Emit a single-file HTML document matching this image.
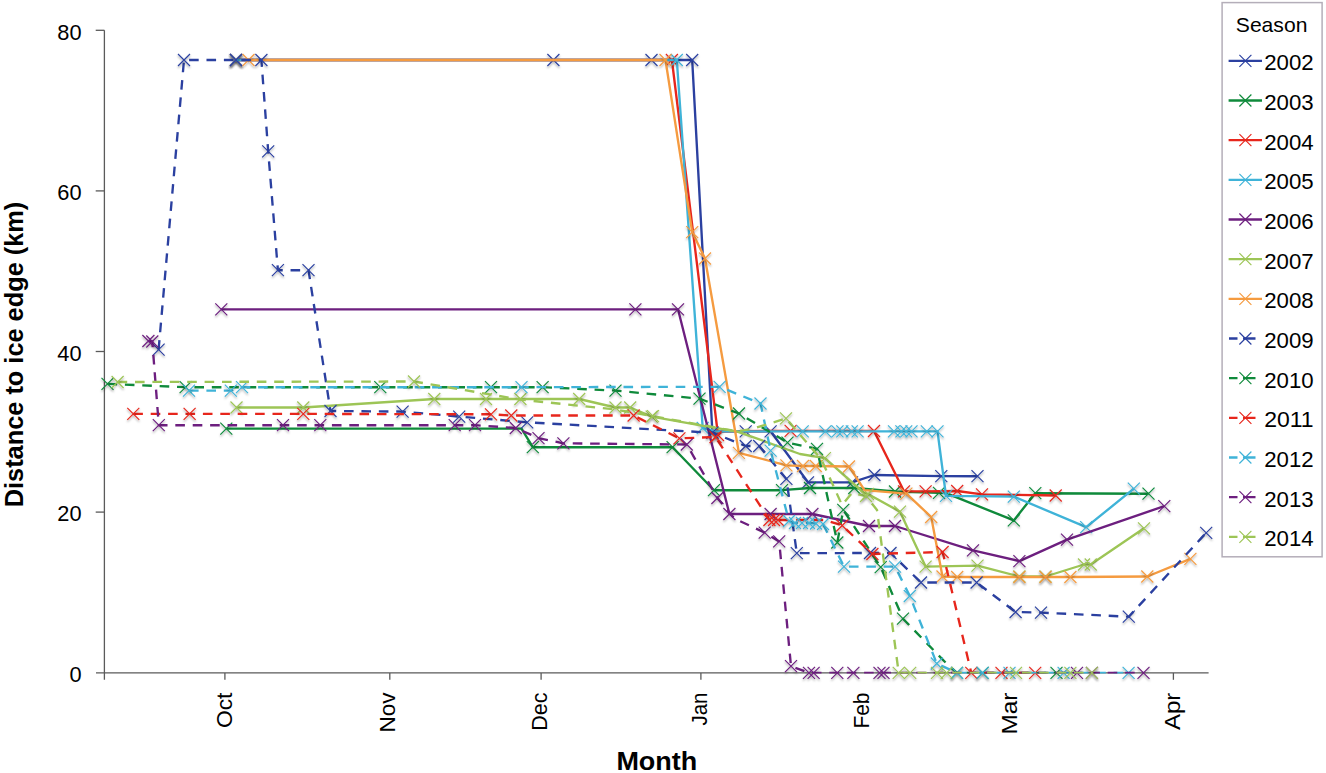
<!DOCTYPE html>
<html lang="en"><head><meta charset="utf-8"><title>Distance to ice edge by month</title>
<style>html,body{margin:0;padding:0;background:#fff}body{width:1326px;height:773px;overflow:hidden}svg{display:block}text{font-family:"Liberation Sans",Arial,sans-serif;fill:#000}</style>
</head><body>
<svg width="1326" height="773" viewBox="0 0 1326 773">
<defs><clipPath id="pc"><rect x="0" y="0" width="1326" height="673.6"/></clipPath><filter id="sh" x="-20%" y="-20%" width="140%" height="160%"><feDropShadow dx="0" dy="1.6" stdDeviation="0.9" flood-color="#000" flood-opacity="0.38"/></filter></defs>
<rect width="1326" height="773" fill="#fff"/>
<g stroke="#5a5a5a" stroke-width="1.3" fill="none">
<path d="M104.4 30.3V679.8"/>
<path d="M96 672.9H1208.6"/>
<path d="M95.7 30.3H104.4"/>
<path d="M95.7 190.9H104.4"/>
<path d="M95.7 351.5H104.4"/>
<path d="M95.7 512.1H104.4"/>
<path d="M224.9 672.9V679.8"/>
<path d="M389.8 672.9V679.8"/>
<path d="M541.1 672.9V679.8"/>
<path d="M700.9 672.9V679.8"/>
<path d="M1173.4 672.9V679.8"/>
</g>
<text x="81.6" y="39.6" font-size="21.8" text-anchor="end">80</text>
<text x="81.6" y="200.2" font-size="21.8" text-anchor="end">60</text>
<text x="81.6" y="360.8" font-size="21.8" text-anchor="end">40</text>
<text x="81.6" y="521.4" font-size="21.8" text-anchor="end">20</text>
<text x="81.6" y="682.0" font-size="21.8" text-anchor="end">0</text>
<text transform="translate(232.2 692.6) rotate(-90)" font-size="21.8" text-anchor="end" textLength="35.5" lengthAdjust="spacingAndGlyphs">Oct</text>
<text transform="translate(395.4 692.6) rotate(-90)" font-size="21.8" text-anchor="end" textLength="40" lengthAdjust="spacingAndGlyphs">Nov</text>
<text transform="translate(547.2 692.6) rotate(-90)" font-size="21.8" text-anchor="end" textLength="38.2" lengthAdjust="spacingAndGlyphs">Dec</text>
<text transform="translate(706.6 692.6) rotate(-90)" font-size="21.8" text-anchor="end" textLength="33" lengthAdjust="spacingAndGlyphs">Jan</text>
<text transform="translate(869.2 692.6) rotate(-90)" font-size="21.8" text-anchor="end" textLength="36" lengthAdjust="spacingAndGlyphs">Feb</text>
<text transform="translate(1016.7 692.6) rotate(-90)" font-size="21.8" text-anchor="end" textLength="42" lengthAdjust="spacingAndGlyphs">Mar</text>
<text transform="translate(1179.5 692.6) rotate(-90)" font-size="21.8" text-anchor="end" textLength="37.5" lengthAdjust="spacingAndGlyphs">Apr</text>
<text transform="translate(23 354.5) rotate(-90)" font-size="26" font-weight="bold" text-anchor="middle" textLength="305.6" lengthAdjust="spacingAndGlyphs">Distance to ice edge (km)</text>
<text x="616.4" y="770.1" font-size="25.6" font-weight="bold" textLength="80.9" lengthAdjust="spacingAndGlyphs">Month</text>
<g stroke="#2b40a0" fill="none">
<path d="M236.0 60.0 L553.4 60.0 L651.5 60.0 L692.2 60.0 L712.4 432.7 L716.0 431.3 L745.7 431.3 L770.6 431.3 L808.0 482.3 L852.0 482.3 L874.4 475.0 L941.3 476.2 L977.5 476.2" stroke-width="2.35" stroke-linejoin="round" clip-path="url(#pc)"/>
<path d="M230.0 54.0l12.0 12.0M230.0 66.0l12.0 -12.0M547.4 54.0l12.0 12.0M547.4 66.0l12.0 -12.0M645.5 54.0l12.0 12.0M645.5 66.0l12.0 -12.0M686.2 54.0l12.0 12.0M686.2 66.0l12.0 -12.0M706.4 426.7l12.0 12.0M706.4 438.7l12.0 -12.0M739.7 425.3l12.0 12.0M739.7 437.3l12.0 -12.0M764.6 425.3l12.0 12.0M764.6 437.3l12.0 -12.0M802.0 476.3l12.0 12.0M802.0 488.3l12.0 -12.0M846.0 476.3l12.0 12.0M846.0 488.3l12.0 -12.0M868.4 469.0l12.0 12.0M868.4 481.0l12.0 -12.0M935.3 470.2l12.0 12.0M935.3 482.2l12.0 -12.0M971.5 470.2l12.0 12.0M971.5 482.2l12.0 -12.0" stroke-width="1.15" filter="url(#sh)"/>
</g>
<g stroke="#0f8a3b" fill="none">
<path d="M226.3 428.6 L521.5 428.6 L532.8 447.2 L672.6 447.2 L714.0 490.2 L782.0 490.2 L810.0 488.0 L854.3 488.0 L895.0 491.5 L939.0 492.8 L946.0 493.2 L1013.8 520.4 L1035.3 493.2 L1148.5 493.7" stroke-width="2.35" stroke-linejoin="round" clip-path="url(#pc)"/>
<path d="M220.3 422.6l12.0 12.0M220.3 434.6l12.0 -12.0M526.8 441.2l12.0 12.0M526.8 453.2l12.0 -12.0M666.6 441.2l12.0 12.0M666.6 453.2l12.0 -12.0M708.0 484.2l12.0 12.0M708.0 496.2l12.0 -12.0M776.0 484.2l12.0 12.0M776.0 496.2l12.0 -12.0M804.0 482.0l12.0 12.0M804.0 494.0l12.0 -12.0M848.3 482.0l12.0 12.0M848.3 494.0l12.0 -12.0M889.0 485.5l12.0 12.0M889.0 497.5l12.0 -12.0M933.0 486.8l12.0 12.0M933.0 498.8l12.0 -12.0M1007.8 514.4l12.0 12.0M1007.8 526.4l12.0 -12.0M1029.3 487.2l12.0 12.0M1029.3 499.2l12.0 -12.0M1142.5 487.7l12.0 12.0M1142.5 499.7l12.0 -12.0" stroke-width="1.15" filter="url(#sh)"/>
</g>
<g stroke="#e7261c" fill="none">
<path d="M236.0 60.0 L671.9 60.0 L718.0 435.0 L722.0 431.3 L790.6 430.8 L874.0 431.0 L904.0 491.3 L925.6 491.3 L957.2 491.0 L982.0 494.3 L1055.7 495.5" stroke-width="2.35" stroke-linejoin="round" clip-path="url(#pc)"/>
<path d="M230.0 54.0l12.0 12.0M230.0 66.0l12.0 -12.0M665.9 54.0l12.0 12.0M665.9 66.0l12.0 -12.0M712.0 429.0l12.0 12.0M712.0 441.0l12.0 -12.0M784.6 424.8l12.0 12.0M784.6 436.8l12.0 -12.0M868.0 425.0l12.0 12.0M868.0 437.0l12.0 -12.0M898.0 485.3l12.0 12.0M898.0 497.3l12.0 -12.0M919.6 485.3l12.0 12.0M919.6 497.3l12.0 -12.0M951.2 485.0l12.0 12.0M951.2 497.0l12.0 -12.0M976.0 488.3l12.0 12.0M976.0 500.3l12.0 -12.0M1049.7 489.5l12.0 12.0M1049.7 501.5l12.0 -12.0" stroke-width="1.15" filter="url(#sh)"/>
</g>
<g stroke="#3fb3d8" fill="none">
<path d="M236.0 60.0 L676.8 60.0 L702.7 428.0 L716.0 431.3 L802.7 431.3 L825.4 431.3 L837.5 431.3 L842.3 431.3 L851.8 431.3 L857.6 431.3 L894.0 431.3 L901.4 431.3 L906.2 431.3 L911.5 431.3 L926.8 431.3 L937.5 431.3 L946.0 495.8 L1013.8 496.6 L1086.2 527.2 L1133.8 488.7" stroke-width="2.35" stroke-linejoin="round" clip-path="url(#pc)"/>
<path d="M230.0 54.0l12.0 12.0M230.0 66.0l12.0 -12.0M670.8 54.0l12.0 12.0M670.8 66.0l12.0 -12.0M696.7 422.0l12.0 12.0M696.7 434.0l12.0 -12.0M796.7 425.3l12.0 12.0M796.7 437.3l12.0 -12.0M819.4 425.3l12.0 12.0M819.4 437.3l12.0 -12.0M831.5 425.3l12.0 12.0M831.5 437.3l12.0 -12.0M836.3 425.3l12.0 12.0M836.3 437.3l12.0 -12.0M845.8 425.3l12.0 12.0M845.8 437.3l12.0 -12.0M851.6 425.3l12.0 12.0M851.6 437.3l12.0 -12.0M888.0 425.3l12.0 12.0M888.0 437.3l12.0 -12.0M895.4 425.3l12.0 12.0M895.4 437.3l12.0 -12.0M900.2 425.3l12.0 12.0M900.2 437.3l12.0 -12.0M905.5 425.3l12.0 12.0M905.5 437.3l12.0 -12.0M920.8 425.3l12.0 12.0M920.8 437.3l12.0 -12.0M931.5 425.3l12.0 12.0M931.5 437.3l12.0 -12.0M940.0 489.8l12.0 12.0M940.0 501.8l12.0 -12.0M1007.8 490.6l12.0 12.0M1007.8 502.6l12.0 -12.0M1080.2 521.2l12.0 12.0M1080.2 533.2l12.0 -12.0M1127.8 482.7l12.0 12.0M1127.8 494.7l12.0 -12.0" stroke-width="1.15" filter="url(#sh)"/>
</g>
<g stroke="#6d1f7f" fill="none">
<path d="M221.3 309.3 L635.4 309.3 L678.0 309.3 L729.4 514.0 L770.6 514.0 L812.4 514.0 L869.0 526.0 L895.0 526.0 L973.0 550.3 L1019.4 561.1 L1067.0 539.6 L1164.3 506.1" stroke-width="2.35" stroke-linejoin="round" clip-path="url(#pc)"/>
<path d="M215.3 303.3l12.0 12.0M215.3 315.3l12.0 -12.0M629.4 303.3l12.0 12.0M629.4 315.3l12.0 -12.0M672.0 303.3l12.0 12.0M672.0 315.3l12.0 -12.0M723.4 508.0l12.0 12.0M723.4 520.0l12.0 -12.0M764.6 508.0l12.0 12.0M764.6 520.0l12.0 -12.0M806.4 508.0l12.0 12.0M806.4 520.0l12.0 -12.0M863.0 520.0l12.0 12.0M863.0 532.0l12.0 -12.0M889.0 520.0l12.0 12.0M889.0 532.0l12.0 -12.0M967.0 544.3l12.0 12.0M967.0 556.3l12.0 -12.0M1013.4 555.1l12.0 12.0M1013.4 567.1l12.0 -12.0M1061.0 533.6l12.0 12.0M1061.0 545.6l12.0 -12.0M1158.3 500.1l12.0 12.0M1158.3 512.1l12.0 -12.0" stroke-width="1.15" filter="url(#sh)"/>
</g>
<g stroke="#9dc556" fill="none">
<path d="M236.5 407.5 L303.3 407.5 L434.3 399.0 L486.0 399.0 L520.4 399.0 L579.2 399.0 L615.5 407.5 L630.2 407.5 L651.7 416.6 L707.6 426.7 L736.6 431.3 L800.0 454.0 L824.9 458.1 L863.4 492.5 L868.0 494.0 L900.0 511.7 L925.6 566.6 L977.5 565.7 L1019.4 576.5 L1045.5 576.5 L1084.0 564.5 L1090.7 564.5 L1144.0 528.3" stroke-width="2.35" stroke-linejoin="round" clip-path="url(#pc)"/>
<path d="M230.5 401.5l12.0 12.0M230.5 413.5l12.0 -12.0M297.3 401.5l12.0 12.0M297.3 413.5l12.0 -12.0M428.3 393.0l12.0 12.0M428.3 405.0l12.0 -12.0M480.0 393.0l12.0 12.0M480.0 405.0l12.0 -12.0M514.4 393.0l12.0 12.0M514.4 405.0l12.0 -12.0M573.2 393.0l12.0 12.0M573.2 405.0l12.0 -12.0M609.5 401.5l12.0 12.0M609.5 413.5l12.0 -12.0M624.2 401.5l12.0 12.0M624.2 413.5l12.0 -12.0M645.7 410.6l12.0 12.0M645.7 422.6l12.0 -12.0M818.9 452.1l12.0 12.0M818.9 464.1l12.0 -12.0M862.0 488.0l12.0 12.0M862.0 500.0l12.0 -12.0M894.0 505.7l12.0 12.0M894.0 517.7l12.0 -12.0M919.6 560.6l12.0 12.0M919.6 572.6l12.0 -12.0M971.5 559.7l12.0 12.0M971.5 571.7l12.0 -12.0M1013.4 570.5l12.0 12.0M1013.4 582.5l12.0 -12.0M1039.5 570.5l12.0 12.0M1039.5 582.5l12.0 -12.0M1078.0 558.5l12.0 12.0M1078.0 570.5l12.0 -12.0M1084.7 558.5l12.0 12.0M1084.7 570.5l12.0 -12.0M1138.0 522.3l12.0 12.0M1138.0 534.3l12.0 -12.0" stroke-width="1.15" filter="url(#sh)"/>
</g>
<g stroke="#f59b40" fill="none">
<path d="M248.5 60.0 L665.5 60.0 L692.2 232.1 L705.0 258.5 L738.9 452.8 L786.4 465.3 L803.0 466.0 L815.8 466.0 L849.0 466.5 L864.5 490.2 L906.4 493.6 L931.2 517.0 L942.5 576.5 L957.2 577.0 L1019.4 577.0 L1045.5 577.0 L1070.4 577.0 L1147.3 576.5 L1190.4 558.9" stroke-width="2.35" stroke-linejoin="round" clip-path="url(#pc)"/>
<path d="M242.5 54.0l12.0 12.0M242.5 66.0l12.0 -12.0M659.5 54.0l12.0 12.0M659.5 66.0l12.0 -12.0M686.2 226.1l12.0 12.0M686.2 238.1l12.0 -12.0M699.0 252.5l12.0 12.0M699.0 264.5l12.0 -12.0M732.9 446.8l12.0 12.0M732.9 458.8l12.0 -12.0M780.4 459.3l12.0 12.0M780.4 471.3l12.0 -12.0M797.0 460.0l12.0 12.0M797.0 472.0l12.0 -12.0M809.8 460.0l12.0 12.0M809.8 472.0l12.0 -12.0M843.0 460.5l12.0 12.0M843.0 472.5l12.0 -12.0M900.4 487.6l12.0 12.0M900.4 499.6l12.0 -12.0M925.2 511.0l12.0 12.0M925.2 523.0l12.0 -12.0M936.5 570.5l12.0 12.0M936.5 582.5l12.0 -12.0M951.2 571.0l12.0 12.0M951.2 583.0l12.0 -12.0M1013.4 571.0l12.0 12.0M1013.4 583.0l12.0 -12.0M1039.5 571.0l12.0 12.0M1039.5 583.0l12.0 -12.0M1064.4 571.0l12.0 12.0M1064.4 583.0l12.0 -12.0M1141.3 570.5l12.0 12.0M1141.3 582.5l12.0 -12.0M1184.4 552.9l12.0 12.0M1184.4 564.9l12.0 -12.0" stroke-width="1.15" filter="url(#sh)"/>
</g>
<g stroke="#2b40a0" fill="none">
<path d="M158.6 349.6 L184.0 60.0 L236.0 60.0 L261.4 60.0 L268.2 151.3 L277.9 270.2 L308.5 270.2 L330.5 411.0 L402.6 411.6 L459.2 416.6 L527.2 422.3 L712.4 432.7 L745.7 446.0 L759.2 446.0 L786.4 478.9 L796.8 553.2 L870.0 553.0 L890.5 553.0 L921.0 582.5 L976.6 582.5 L1015.6 612.0 L1041.0 612.6 L1128.8 616.7 L1206.2 532.8" stroke-width="2.35" stroke-linejoin="round" stroke-dasharray="9.6 7.8" clip-path="url(#pc)"/>
<path d="M152.6 343.6l12.0 12.0M152.6 355.6l12.0 -12.0M178.0 54.0l12.0 12.0M178.0 66.0l12.0 -12.0M230.0 54.0l12.0 12.0M230.0 66.0l12.0 -12.0M255.4 54.0l12.0 12.0M255.4 66.0l12.0 -12.0M262.2 145.3l12.0 12.0M262.2 157.3l12.0 -12.0M271.9 264.2l12.0 12.0M271.9 276.2l12.0 -12.0M302.5 264.2l12.0 12.0M302.5 276.2l12.0 -12.0M324.5 405.0l12.0 12.0M324.5 417.0l12.0 -12.0M396.6 405.6l12.0 12.0M396.6 417.6l12.0 -12.0M453.2 410.6l12.0 12.0M453.2 422.6l12.0 -12.0M521.2 416.3l12.0 12.0M521.2 428.3l12.0 -12.0M706.4 426.7l12.0 12.0M706.4 438.7l12.0 -12.0M739.7 440.0l12.0 12.0M739.7 452.0l12.0 -12.0M753.2 440.0l12.0 12.0M753.2 452.0l12.0 -12.0M780.4 472.9l12.0 12.0M780.4 484.9l12.0 -12.0M790.8 547.2l12.0 12.0M790.8 559.2l12.0 -12.0M864.0 547.0l12.0 12.0M864.0 559.0l12.0 -12.0M884.5 547.0l12.0 12.0M884.5 559.0l12.0 -12.0M915.0 576.5l12.0 12.0M915.0 588.5l12.0 -12.0M970.6 576.5l12.0 12.0M970.6 588.5l12.0 -12.0M1009.6 606.0l12.0 12.0M1009.6 618.0l12.0 -12.0M1035.0 606.6l12.0 12.0M1035.0 618.6l12.0 -12.0M1122.8 610.7l12.0 12.0M1122.8 622.7l12.0 -12.0M1200.2 526.8l12.0 12.0M1200.2 538.8l12.0 -12.0" stroke-width="1.15" filter="url(#sh)"/>
</g>
<g stroke="#0f8a3b" fill="none">
<path d="M107.5 383.8 L185.6 387.2 L380.3 387.2 L491.0 387.2 L542.6 387.2 L615.5 390.6 L699.5 398.7 L739.0 413.5 L787.5 442.6 L817.0 448.8 L837.3 542.5 L843.3 509.8 L880.7 567.2 L903.0 618.7 L947.0 664.0 L957.0 672.9 L982.6 672.9 L1056.5 672.9" stroke-width="2.35" stroke-linejoin="round" stroke-dasharray="9.6 7.8" clip-path="url(#pc)"/>
<path d="M101.5 377.8l12.0 12.0M101.5 389.8l12.0 -12.0M179.6 381.2l12.0 12.0M179.6 393.2l12.0 -12.0M374.3 381.2l12.0 12.0M374.3 393.2l12.0 -12.0M485.0 381.2l12.0 12.0M485.0 393.2l12.0 -12.0M536.6 381.2l12.0 12.0M536.6 393.2l12.0 -12.0M609.5 384.6l12.0 12.0M609.5 396.6l12.0 -12.0M693.5 392.7l12.0 12.0M693.5 404.7l12.0 -12.0M733.0 407.5l12.0 12.0M733.0 419.5l12.0 -12.0M781.5 436.6l12.0 12.0M781.5 448.6l12.0 -12.0M811.0 442.8l12.0 12.0M811.0 454.8l12.0 -12.0M831.3 536.5l12.0 12.0M831.3 548.5l12.0 -12.0M837.3 503.8l12.0 12.0M837.3 515.8l12.0 -12.0M874.7 561.2l12.0 12.0M874.7 573.2l12.0 -12.0M897.0 612.7l12.0 12.0M897.0 624.7l12.0 -12.0M951.0 666.9l12.0 12.0M951.0 678.9l12.0 -12.0M976.6 666.9l12.0 12.0M976.6 678.9l12.0 -12.0M1050.5 666.9l12.0 12.0M1050.5 678.9l12.0 -12.0" stroke-width="1.15" filter="url(#sh)"/>
</g>
<g stroke="#e7261c" fill="none">
<path d="M133.3 413.9 L189.6 413.9 L303.3 413.9 L491.0 414.3 L511.3 415.5 L633.6 415.5 L679.4 438.4 L715.5 437.0 L769.4 520.0 L774.0 520.0 L778.0 520.0 L825.0 520.0 L842.2 525.5 L872.4 554.0 L942.6 552.0 L971.3 672.9 L1001.5 672.9 L1035.2 672.9" stroke-width="2.35" stroke-linejoin="round" stroke-dasharray="9.6 7.8" clip-path="url(#pc)"/>
<path d="M127.3 407.9l12.0 12.0M127.3 419.9l12.0 -12.0M183.6 407.9l12.0 12.0M183.6 419.9l12.0 -12.0M297.3 407.9l12.0 12.0M297.3 419.9l12.0 -12.0M485.0 408.3l12.0 12.0M485.0 420.3l12.0 -12.0M505.3 409.5l12.0 12.0M505.3 421.5l12.0 -12.0M627.6 409.5l12.0 12.0M627.6 421.5l12.0 -12.0M673.4 432.4l12.0 12.0M673.4 444.4l12.0 -12.0M709.5 431.0l12.0 12.0M709.5 443.0l12.0 -12.0M763.4 514.0l12.0 12.0M763.4 526.0l12.0 -12.0M768.0 514.0l12.0 12.0M768.0 526.0l12.0 -12.0M772.0 514.0l12.0 12.0M772.0 526.0l12.0 -12.0M836.2 519.5l12.0 12.0M836.2 531.5l12.0 -12.0M866.4 548.0l12.0 12.0M866.4 560.0l12.0 -12.0M936.6 546.0l12.0 12.0M936.6 558.0l12.0 -12.0M965.3 666.9l12.0 12.0M965.3 678.9l12.0 -12.0M995.5 666.9l12.0 12.0M995.5 678.9l12.0 -12.0M1029.2 666.9l12.0 12.0M1029.2 678.9l12.0 -12.0" stroke-width="1.15" filter="url(#sh)"/>
</g>
<g stroke="#3fb3d8" fill="none">
<path d="M189.0 390.6 L230.8 390.6 L242.0 387.2 L521.5 387.2 L719.6 386.8 L760.5 403.5 L770.6 450.6 L789.0 521.0 L795.0 523.0 L802.0 523.0 L809.0 523.0 L816.0 523.5 L823.0 524.0 L844.0 566.6 L895.0 566.6 L909.8 596.0 L936.8 663.5 L957.0 672.9 L982.6 672.9 L1009.5 672.9 L1063.6 672.9 L1128.6 672.9" stroke-width="2.35" stroke-linejoin="round" stroke-dasharray="9.6 7.8" clip-path="url(#pc)"/>
<path d="M183.0 384.6l12.0 12.0M183.0 396.6l12.0 -12.0M224.8 384.6l12.0 12.0M224.8 396.6l12.0 -12.0M236.0 381.2l12.0 12.0M236.0 393.2l12.0 -12.0M515.5 381.2l12.0 12.0M515.5 393.2l12.0 -12.0M713.6 380.8l12.0 12.0M713.6 392.8l12.0 -12.0M754.5 397.5l12.0 12.0M754.5 409.5l12.0 -12.0M764.6 444.6l12.0 12.0M764.6 456.6l12.0 -12.0M783.0 515.0l12.0 12.0M783.0 527.0l12.0 -12.0M789.0 517.0l12.0 12.0M789.0 529.0l12.0 -12.0M796.0 517.0l12.0 12.0M796.0 529.0l12.0 -12.0M803.0 517.0l12.0 12.0M803.0 529.0l12.0 -12.0M810.0 517.5l12.0 12.0M810.0 529.5l12.0 -12.0M817.0 518.0l12.0 12.0M817.0 530.0l12.0 -12.0M838.0 560.6l12.0 12.0M838.0 572.6l12.0 -12.0M889.0 560.6l12.0 12.0M889.0 572.6l12.0 -12.0M903.8 590.0l12.0 12.0M903.8 602.0l12.0 -12.0M930.8 657.5l12.0 12.0M930.8 669.5l12.0 -12.0M951.0 666.9l12.0 12.0M951.0 678.9l12.0 -12.0M976.6 666.9l12.0 12.0M976.6 678.9l12.0 -12.0M1003.5 666.9l12.0 12.0M1003.5 678.9l12.0 -12.0M1057.6 666.9l12.0 12.0M1057.6 678.9l12.0 -12.0M1122.6 666.9l12.0 12.0M1122.6 678.9l12.0 -12.0" stroke-width="1.15" filter="url(#sh)"/>
</g>
<g stroke="#6d1f7f" fill="none">
<path d="M148.4 341.0 L152.3 341.5 L158.8 425.2 L283.0 425.2 L320.3 425.2 L454.7 425.2 L475.0 425.2 L515.8 428.0 L538.5 438.1 L563.4 443.3 L686.8 444.5 L717.4 498.0 L734.3 518.5 L764.7 532.6 L779.2 541.4 L791.0 666.2 L809.0 672.9 L813.6 672.9 L837.3 672.9 L853.4 672.9 L879.5 672.9 L883.5 672.9 L1077.0 672.9 L1091.9 672.9 L1143.5 672.9" stroke-width="2.35" stroke-linejoin="round" stroke-dasharray="9.6 7.8" clip-path="url(#pc)"/>
<path d="M142.4 335.0l12.0 12.0M142.4 347.0l12.0 -12.0M146.3 335.5l12.0 12.0M146.3 347.5l12.0 -12.0M152.8 419.2l12.0 12.0M152.8 431.2l12.0 -12.0M277.0 419.2l12.0 12.0M277.0 431.2l12.0 -12.0M314.3 419.2l12.0 12.0M314.3 431.2l12.0 -12.0M448.7 419.2l12.0 12.0M448.7 431.2l12.0 -12.0M469.0 419.2l12.0 12.0M469.0 431.2l12.0 -12.0M509.8 422.0l12.0 12.0M509.8 434.0l12.0 -12.0M532.5 432.1l12.0 12.0M532.5 444.1l12.0 -12.0M557.4 437.3l12.0 12.0M557.4 449.3l12.0 -12.0M680.8 438.5l12.0 12.0M680.8 450.5l12.0 -12.0M711.4 492.0l12.0 12.0M711.4 504.0l12.0 -12.0M758.7 526.6l12.0 12.0M758.7 538.6l12.0 -12.0M773.2 535.4l12.0 12.0M773.2 547.4l12.0 -12.0M785.0 660.2l12.0 12.0M785.0 672.2l12.0 -12.0M803.0 666.9l12.0 12.0M803.0 678.9l12.0 -12.0M807.6 666.9l12.0 12.0M807.6 678.9l12.0 -12.0M831.3 666.9l12.0 12.0M831.3 678.9l12.0 -12.0M847.4 666.9l12.0 12.0M847.4 678.9l12.0 -12.0M873.5 666.9l12.0 12.0M873.5 678.9l12.0 -12.0M877.5 666.9l12.0 12.0M877.5 678.9l12.0 -12.0M1071.0 666.9l12.0 12.0M1071.0 678.9l12.0 -12.0M1085.9 666.9l12.0 12.0M1085.9 678.9l12.0 -12.0M1137.5 666.9l12.0 12.0M1137.5 678.9l12.0 -12.0" stroke-width="1.15" filter="url(#sh)"/>
</g>
<g stroke="#9dc556" fill="none">
<path d="M117.6 382.0 L414.0 381.5 L520.4 399.6 L615.5 409.5 L653.0 416.2 L736.6 431.3 L752.0 429.0 L786.0 418.4 L821.5 459.6 L842.0 505.0 L852.0 493.0 L866.0 496.0 L877.0 510.0 L898.7 672.9 L910.2 672.9 L937.0 672.9 L946.7 672.9 L1016.0 672.9 L1070.4 672.9 L1091.9 672.9" stroke-width="2.35" stroke-linejoin="round" stroke-dasharray="9.6 7.8" clip-path="url(#pc)"/>
<path d="M111.6 376.0l12.0 12.0M111.6 388.0l12.0 -12.0M408.0 375.5l12.0 12.0M408.0 387.5l12.0 -12.0M647.0 410.2l12.0 12.0M647.0 422.2l12.0 -12.0M780.0 412.4l12.0 12.0M780.0 424.4l12.0 -12.0M860.0 490.0l12.0 12.0M860.0 502.0l12.0 -12.0M892.7 666.9l12.0 12.0M892.7 678.9l12.0 -12.0M904.2 666.9l12.0 12.0M904.2 678.9l12.0 -12.0M931.0 666.9l12.0 12.0M931.0 678.9l12.0 -12.0M940.7 666.9l12.0 12.0M940.7 678.9l12.0 -12.0M1010.0 666.9l12.0 12.0M1010.0 678.9l12.0 -12.0M1064.4 666.9l12.0 12.0M1064.4 678.9l12.0 -12.0M1085.9 666.9l12.0 12.0M1085.9 678.9l12.0 -12.0" stroke-width="1.15" filter="url(#sh)"/>
</g>
<rect x="1222.1" y="2.6" width="100" height="554.2" fill="#fff" stroke="#b4aeb9" stroke-width="1.5"/>
<text x="1235.8" y="31.9" font-size="21" textLength="71.6" lengthAdjust="spacingAndGlyphs">Season</text>
<path d="M1228.6 60.8H1262" stroke="#2b40a0" stroke-width="2.3" fill="none"/>
<path d="M1239.4 54.8l12.0 12.0M1239.4 66.8l12.0 -12.0" stroke="#2b40a0" stroke-width="1.15" fill="none"/>
<text x="1264.2" y="70.3" font-size="21.4" textLength="49.4" lengthAdjust="spacingAndGlyphs">2002</text>
<path d="M1228.6 100.5H1262" stroke="#0f8a3b" stroke-width="2.3" fill="none"/>
<path d="M1239.4 94.5l12.0 12.0M1239.4 106.5l12.0 -12.0" stroke="#0f8a3b" stroke-width="1.15" fill="none"/>
<text x="1264.2" y="110.0" font-size="21.4" textLength="49.4" lengthAdjust="spacingAndGlyphs">2003</text>
<path d="M1228.6 140.1H1262" stroke="#e7261c" stroke-width="2.3" fill="none"/>
<path d="M1239.4 134.1l12.0 12.0M1239.4 146.1l12.0 -12.0" stroke="#e7261c" stroke-width="1.15" fill="none"/>
<text x="1264.2" y="149.6" font-size="21.4" textLength="49.4" lengthAdjust="spacingAndGlyphs">2004</text>
<path d="M1228.6 179.8H1262" stroke="#3fb3d8" stroke-width="2.3" fill="none"/>
<path d="M1239.4 173.8l12.0 12.0M1239.4 185.8l12.0 -12.0" stroke="#3fb3d8" stroke-width="1.15" fill="none"/>
<text x="1264.2" y="189.3" font-size="21.4" textLength="49.4" lengthAdjust="spacingAndGlyphs">2005</text>
<path d="M1228.6 219.5H1262" stroke="#6d1f7f" stroke-width="2.3" fill="none"/>
<path d="M1239.4 213.5l12.0 12.0M1239.4 225.5l12.0 -12.0" stroke="#6d1f7f" stroke-width="1.15" fill="none"/>
<text x="1264.2" y="229.0" font-size="21.4" textLength="49.4" lengthAdjust="spacingAndGlyphs">2006</text>
<path d="M1228.6 259.2H1262" stroke="#9dc556" stroke-width="2.3" fill="none"/>
<path d="M1239.4 253.2l12.0 12.0M1239.4 265.2l12.0 -12.0" stroke="#9dc556" stroke-width="1.15" fill="none"/>
<text x="1264.2" y="268.7" font-size="21.4" textLength="49.4" lengthAdjust="spacingAndGlyphs">2007</text>
<path d="M1228.6 298.8H1262" stroke="#f59b40" stroke-width="2.3" fill="none"/>
<path d="M1239.4 292.8l12.0 12.0M1239.4 304.8l12.0 -12.0" stroke="#f59b40" stroke-width="1.15" fill="none"/>
<text x="1264.2" y="308.3" font-size="21.4" textLength="49.4" lengthAdjust="spacingAndGlyphs">2008</text>
<path d="M1229 338.5h8.5M1243 338.5h12.5" stroke="#2b40a0" stroke-width="2.3" fill="none"/>
<path d="M1239.4 332.5l12.0 12.0M1239.4 344.5l12.0 -12.0" stroke="#2b40a0" stroke-width="1.15" fill="none"/>
<text x="1264.2" y="348.0" font-size="21.4" textLength="49.4" lengthAdjust="spacingAndGlyphs">2009</text>
<path d="M1229 378.2h8.5M1243 378.2h12.5" stroke="#0f8a3b" stroke-width="2.3" fill="none"/>
<path d="M1239.4 372.2l12.0 12.0M1239.4 384.2l12.0 -12.0" stroke="#0f8a3b" stroke-width="1.15" fill="none"/>
<text x="1264.2" y="387.7" font-size="21.4" textLength="49.4" lengthAdjust="spacingAndGlyphs">2010</text>
<path d="M1229 417.8h8.5M1243 417.8h12.5" stroke="#e7261c" stroke-width="2.3" fill="none"/>
<path d="M1239.4 411.8l12.0 12.0M1239.4 423.8l12.0 -12.0" stroke="#e7261c" stroke-width="1.15" fill="none"/>
<text x="1264.2" y="427.3" font-size="21.4" textLength="49.4" lengthAdjust="spacingAndGlyphs">2011</text>
<path d="M1229 457.5h8.5M1243 457.5h12.5" stroke="#3fb3d8" stroke-width="2.3" fill="none"/>
<path d="M1239.4 451.5l12.0 12.0M1239.4 463.5l12.0 -12.0" stroke="#3fb3d8" stroke-width="1.15" fill="none"/>
<text x="1264.2" y="467.0" font-size="21.4" textLength="49.4" lengthAdjust="spacingAndGlyphs">2012</text>
<path d="M1229 497.2h8.5M1243 497.2h12.5" stroke="#6d1f7f" stroke-width="2.3" fill="none"/>
<path d="M1239.4 491.2l12.0 12.0M1239.4 503.2l12.0 -12.0" stroke="#6d1f7f" stroke-width="1.15" fill="none"/>
<text x="1264.2" y="506.7" font-size="21.4" textLength="49.4" lengthAdjust="spacingAndGlyphs">2013</text>
<path d="M1229 536.8h8.5M1243 536.8h12.5" stroke="#9dc556" stroke-width="2.3" fill="none"/>
<path d="M1239.4 530.8l12.0 12.0M1239.4 542.8l12.0 -12.0" stroke="#9dc556" stroke-width="1.15" fill="none"/>
<text x="1264.2" y="546.3" font-size="21.4" textLength="49.4" lengthAdjust="spacingAndGlyphs">2014</text>
</svg></body></html>
